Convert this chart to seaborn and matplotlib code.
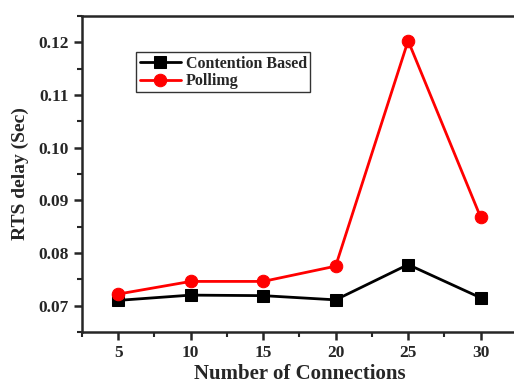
import pandas as pd
import matplotlib
matplotlib.use("Agg")
import matplotlib.pyplot as plt
import seaborn as sns
from matplotlib.ticker import MultipleLocator

# data
connections = [5, 10, 15, 20, 25, 30]
contention = [0.0710, 0.0720, 0.0719, 0.0711, 0.0778, 0.0715]
polling = [0.0722, 0.0746, 0.0746, 0.0775, 0.1203, 0.0868]

sns.set_style("ticks")
plt.rcParams["font.family"] = ["Liberation Serif", "DejaVu Serif"]
plt.rcParams["font.weight"] = "bold"

fig = plt.figure(figsize=(5.14, 3.85), dpi=100)
ax = fig.add_axes([0.1595, 0.1377, 0.846, 0.8208])

sns.lineplot(x=connections, y=contention, ax=ax, color="black", lw=2.0,
             marker="s", markersize=8, markeredgecolor="black",
             label="Contention Based")
sns.lineplot(x=connections, y=polling, ax=ax, color="#ff0000", lw=2.0,
             marker="o", markersize=9, markeredgecolor="#ff0000",
             label="Pollimg")

ax.set_xlim(2.5, 32.5)
ax.set_ylim(0.065, 0.125)
ax.set_xticks(connections)
ax.xaxis.set_minor_locator(MultipleLocator(2.5))
ax.set_yticks([0.07, 0.08, 0.09, 0.10, 0.11, 0.12])
ax.set_yticklabels(["0.07", "0.08", "0.09", "0.10", "0.11", "0.12"])
ax.yaxis.set_minor_locator(MultipleLocator(0.005))

for s in ax.spines.values():
    s.set_linewidth(1.8)
ax.tick_params(which="major", direction="out", length=6, width=1.8,
               labelsize=12.5)
ax.tick_params(which="minor", direction="out", length=3.5, width=1.5)

ax.set_xlabel("Number of Connections", fontsize=15, fontweight="bold", labelpad=2)
ax.set_ylabel("RTS delay (Sec)", fontsize=14, fontweight="bold", labelpad=7)

leg = ax.legend(loc="upper left", bbox_to_anchor=(0.125, 0.885), fontsize=11.5,
                frameon=True, fancybox=False, handlelength=2.6,
                borderpad=0.2, labelspacing=0.1, handletextpad=0.3,
                borderaxespad=0)
leg.get_frame().set_edgecolor("black")
leg.get_frame().set_linewidth(1.0)
for t in leg.get_texts():
    t.set_fontweight("bold")

fig.savefig("out.png", dpi=100)
